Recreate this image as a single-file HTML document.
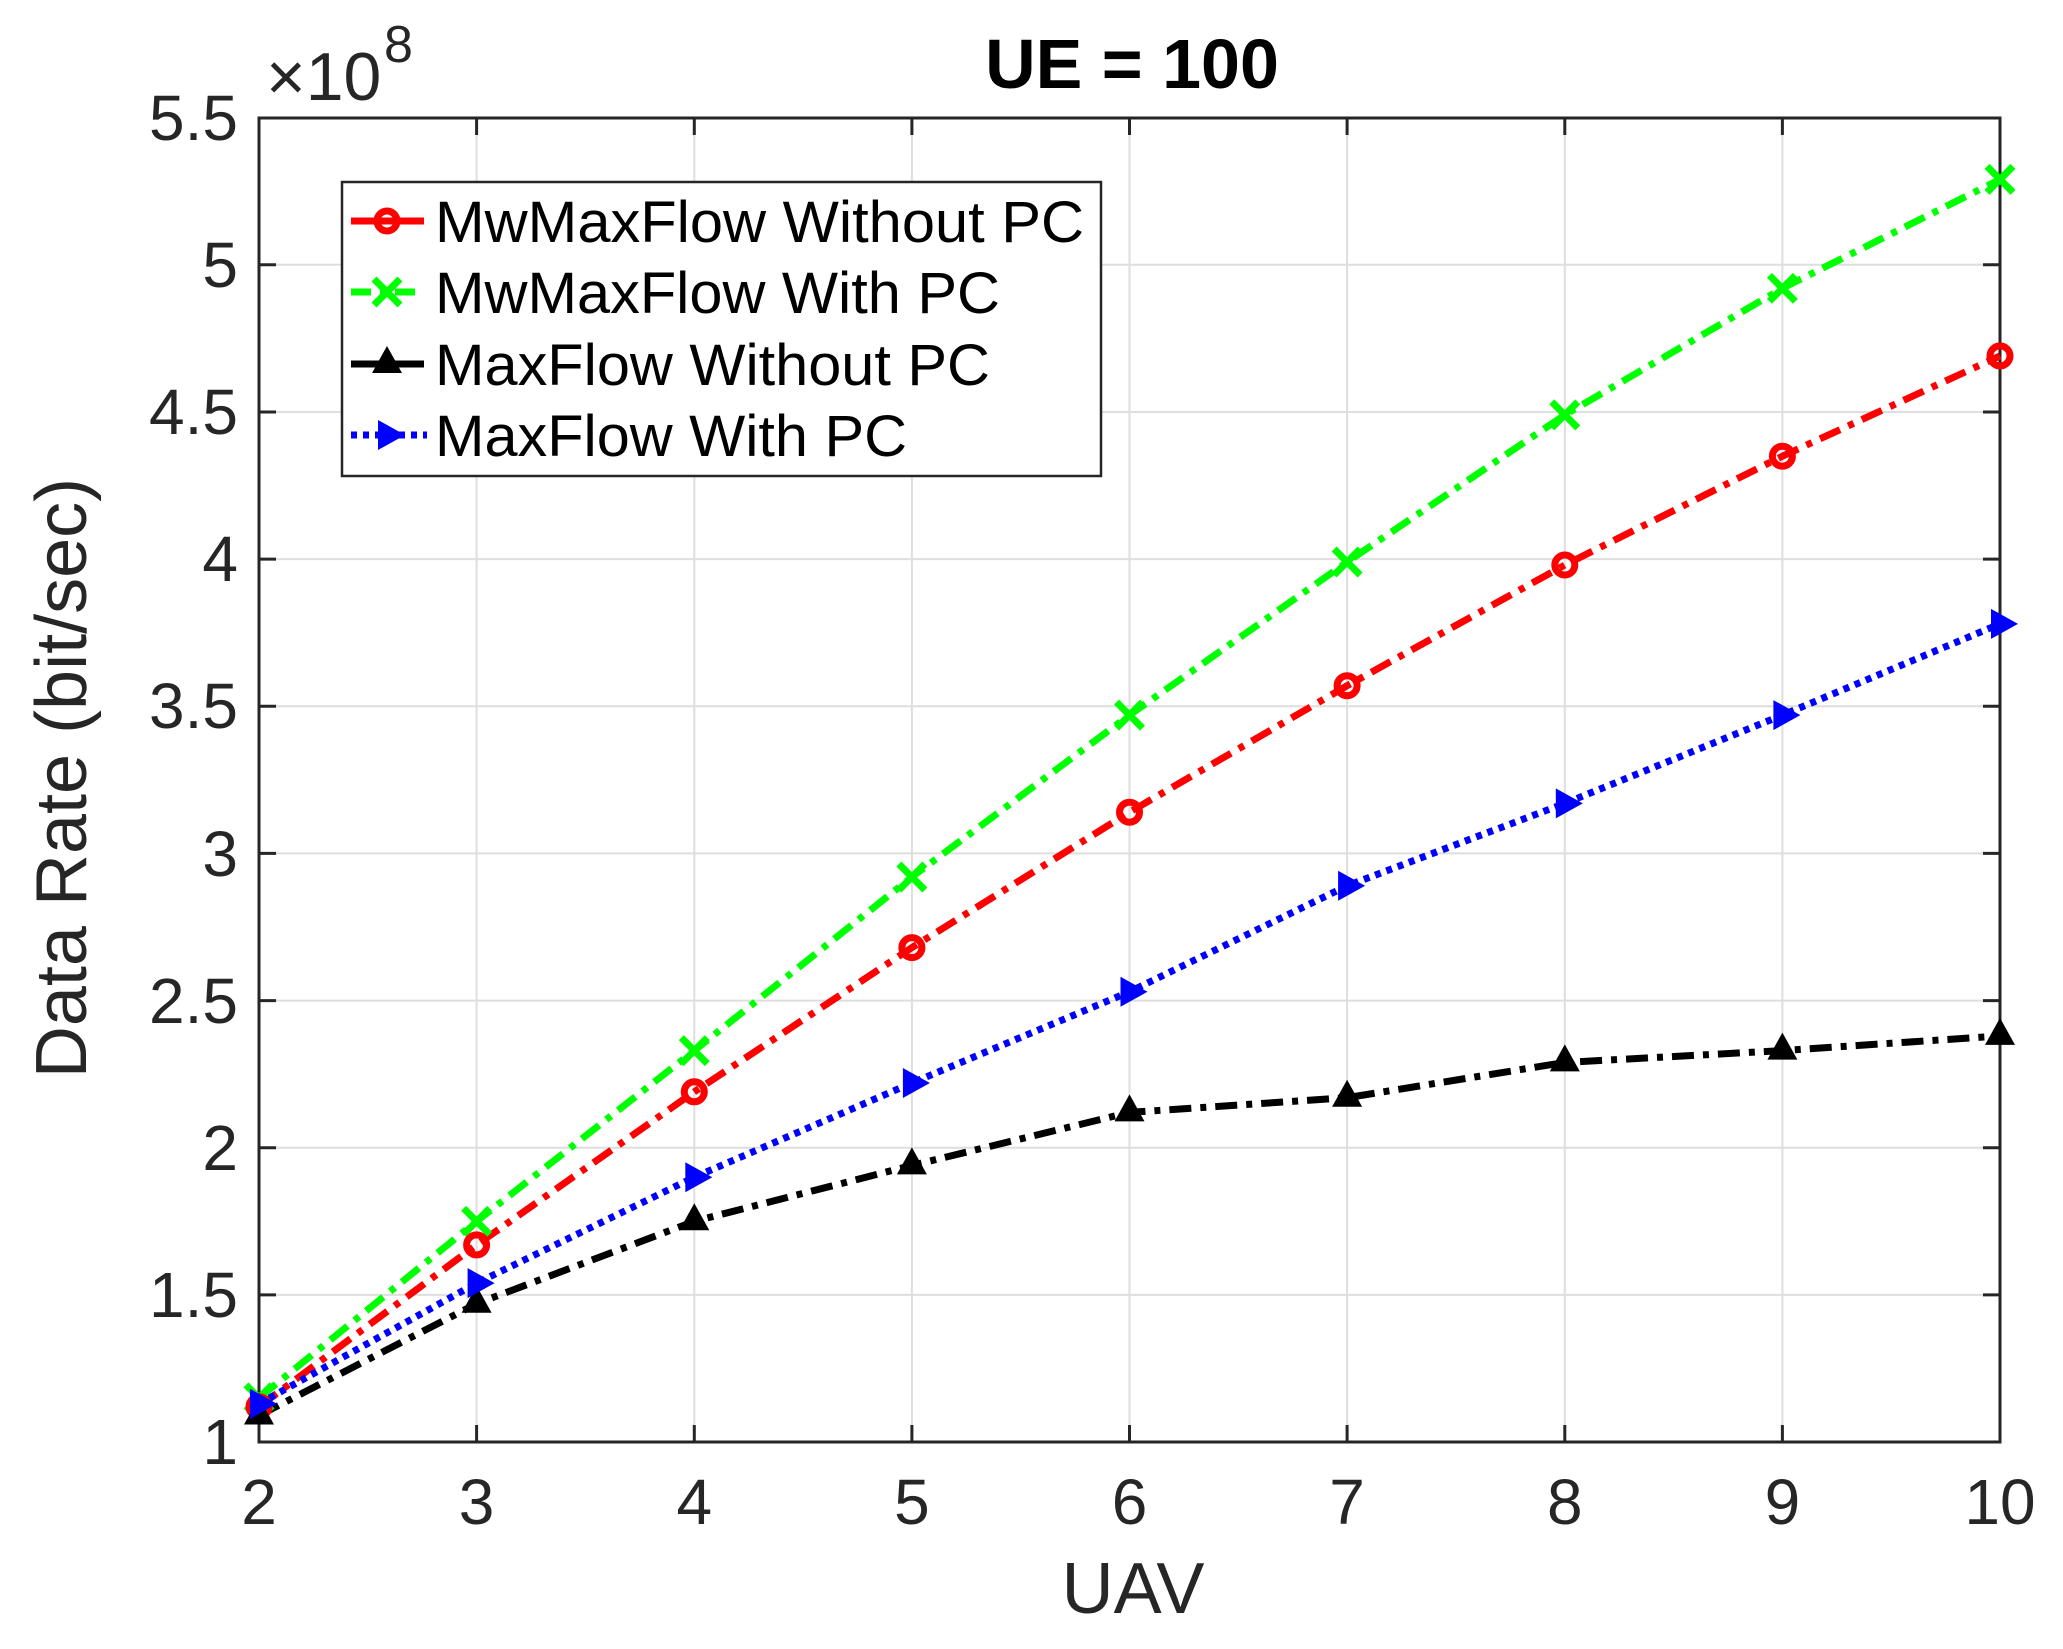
<!DOCTYPE html>
<html><head><meta charset="utf-8"><style>html,body{margin:0;padding:0;background:#fff}svg{display:block}</style></head>
<body>
<svg width="2063" height="1649" viewBox="0 0 2063 1649" xmlns="http://www.w3.org/2000/svg" font-family="Liberation Sans, Arial, sans-serif">
<rect width="2063" height="1649" fill="#fff"/>
<g stroke="#dedede" stroke-width="2">
<line x1="476.6" y1="118" x2="476.6" y2="1442"/><line x1="694.3" y1="118" x2="694.3" y2="1442"/><line x1="911.9" y1="118" x2="911.9" y2="1442"/><line x1="1129.5" y1="118" x2="1129.5" y2="1442"/><line x1="1347.1" y1="118" x2="1347.1" y2="1442"/><line x1="1564.8" y1="118" x2="1564.8" y2="1442"/><line x1="1782.4" y1="118" x2="1782.4" y2="1442"/>
<line x1="259" y1="1294.9" x2="2000" y2="1294.9"/><line x1="259" y1="1147.7" x2="2000" y2="1147.7"/><line x1="259" y1="1000.6" x2="2000" y2="1000.6"/><line x1="259" y1="853.4" x2="2000" y2="853.4"/><line x1="259" y1="706.3" x2="2000" y2="706.3"/><line x1="259" y1="559.1" x2="2000" y2="559.1"/><line x1="259" y1="412" x2="2000" y2="412"/><line x1="259" y1="264.8" x2="2000" y2="264.8"/>
</g>
<g stroke="#262626" stroke-width="3">
<path d="M476.6 1442v-17M694.3 1442v-17M911.9 1442v-17M1129.5 1442v-17M1347.1 1442v-17M1564.8 1442v-17M1782.4 1442v-17M476.6 118v17M694.3 118v17M911.9 118v17M1129.5 118v17M1347.1 118v17M1564.8 118v17M1782.4 118v17"/>
<path d="M259 1294.9h17M259 1147.7h17M259 1000.6h17M259 853.4h17M259 706.3h17M259 559.1h17M259 412h17M259 264.8h17M2000 1294.9h-17M2000 1147.7h-17M2000 1000.6h-17M2000 853.4h-17M2000 706.3h-17M2000 559.1h-17M2000 412h-17M2000 264.8h-17"/>
<rect x="259" y="118" width="1741" height="1324" fill="none"/>
</g>
<g fill="#262626" font-size="64" text-anchor="end">
<text x="238" y="1464">1</text><text x="238" y="1317">1.5</text><text x="238" y="1170">2</text><text x="238" y="1023">2.5</text><text x="238" y="876">3</text><text x="238" y="728">3.5</text><text x="238" y="581">4</text><text x="238" y="434">4.5</text><text x="238" y="287">5</text><text x="238" y="140">5.5</text>
</g>
<g fill="#262626" font-size="64" text-anchor="middle">
<text x="259" y="1524">2</text><text x="476.6" y="1524">3</text><text x="694.3" y="1524">4</text><text x="911.9" y="1524">5</text><text x="1129.5" y="1524">6</text><text x="1347.1" y="1524">7</text><text x="1564.8" y="1524">8</text><text x="1782.4" y="1524">9</text><text x="2000" y="1524">10</text>
</g>
<text x="266" y="100" fill="#262626" font-size="68">×10</text>
<text x="384" y="62" fill="#262626" font-size="52">8</text>
<text x="1132" y="88" text-anchor="middle" font-size="70" font-weight="bold" fill="#000">UE = 100</text>
<text x="1133" y="1613" text-anchor="middle" font-size="72" fill="#262626">UAV</text>
<text transform="translate(86,778) rotate(-90)" text-anchor="middle" font-size="72" fill="#262626">Data Rate (bit/sec)</text>

<g fill="none" stroke-width="7">
<polyline stroke="#00ff00" stroke-dasharray="22 9 6 9" points="259,1397.9 476.6,1221.3 694.3,1050.6 911.9,877 1129.5,715.1 1347.1,562 1564.8,414.9 1782.4,288.3 2000,179.4"/>
<polyline stroke="#ff0000" stroke-dasharray="22 9 6 9" points="259,1406.7 476.6,1244.9 694.3,1091.8 911.9,947.6 1129.5,812.2 1347.1,685.7 1564.8,565 1782.4,456.2 2000,355.9"/>
<polyline stroke="#0000ff" stroke-dasharray="6 6" points="259,1403.8 476.6,1283.1 694.3,1177.2 911.9,1083 1129.5,991.8 1347.1,885.8 1564.8,803.4 1782.4,715.1 2000,623.9"/>
<polyline stroke="#000" stroke-dasharray="22 9 6 9" points="259,1415.5 476.6,1303.7 694.3,1221.3 911.9,1165.4 1129.5,1112.4 1347.1,1097.7 1564.8,1062.4 1782.4,1050.6 2000,1035.9"/>
</g>
<g stroke="#00ff00" stroke-width="7" fill="none">
<path d="M-13 -13L13 13M-13 13L13 -13" transform="translate(259,1397.9)"/><path d="M-13 -13L13 13M-13 13L13 -13" transform="translate(476.6,1221.3)"/><path d="M-13 -13L13 13M-13 13L13 -13" transform="translate(694.3,1050.6)"/><path d="M-13 -13L13 13M-13 13L13 -13" transform="translate(911.9,877)"/><path d="M-13 -13L13 13M-13 13L13 -13" transform="translate(1129.5,715.1)"/><path d="M-13 -13L13 13M-13 13L13 -13" transform="translate(1347.1,562)"/><path d="M-13 -13L13 13M-13 13L13 -13" transform="translate(1564.8,414.9)"/><path d="M-13 -13L13 13M-13 13L13 -13" transform="translate(1782.4,288.3)"/><path d="M-13 -13L13 13M-13 13L13 -13" transform="translate(2000,179.4)"/>
</g>
<g stroke="#ff0000" stroke-width="7" fill="none">
<circle cx="259" cy="1406.7" r="10"/><circle cx="476.6" cy="1244.9" r="10"/><circle cx="694.3" cy="1091.8" r="10"/><circle cx="911.9" cy="947.6" r="10"/><circle cx="1129.5" cy="812.2" r="10"/><circle cx="1347.1" cy="685.7" r="10"/><circle cx="1564.8" cy="565" r="10"/><circle cx="1782.4" cy="456.2" r="10"/><circle cx="2000" cy="355.9" r="10"/>
</g>
<g fill="#000">
<path d="M0 -18L15 9H-15Z" transform="translate(259,1415.5)"/><path d="M0 -18L15 9H-15Z" transform="translate(476.6,1303.7)"/><path d="M0 -18L15 9H-15Z" transform="translate(694.3,1221.3)"/><path d="M0 -18L15 9H-15Z" transform="translate(911.9,1165.4)"/><path d="M0 -18L15 9H-15Z" transform="translate(1129.5,1112.4)"/><path d="M0 -18L15 9H-15Z" transform="translate(1347.1,1097.7)"/><path d="M0 -18L15 9H-15Z" transform="translate(1564.8,1062.4)"/><path d="M0 -18L15 9H-15Z" transform="translate(1782.4,1050.6)"/><path d="M0 -18L15 9H-15Z" transform="translate(2000,1035.9)"/>
</g>
<g fill="#0000ff">
<path d="M18 0L-9 -15V15Z" transform="translate(259,1403.8)"/><path d="M18 0L-9 -15V15Z" transform="translate(476.6,1283.1)"/><path d="M18 0L-9 -15V15Z" transform="translate(694.3,1177.2)"/><path d="M18 0L-9 -15V15Z" transform="translate(911.9,1083)"/><path d="M18 0L-9 -15V15Z" transform="translate(1129.5,991.8)"/><path d="M18 0L-9 -15V15Z" transform="translate(1347.1,885.8)"/><path d="M18 0L-9 -15V15Z" transform="translate(1564.8,803.4)"/><path d="M18 0L-9 -15V15Z" transform="translate(1782.4,715.1)"/><path d="M18 0L-9 -15V15Z" transform="translate(2000,623.9)"/>
</g>

<rect x="342" y="182" width="759" height="294" fill="#fff" stroke="#262626" stroke-width="2.5"/>
<g stroke-width="7">
<line x1="351" y1="221" x2="424" y2="221" stroke="#ff0000"/><circle cx="387" cy="221" r="10" fill="none" stroke="#ff0000"/>
<line x1="351" y1="292" x2="424" y2="292" stroke="#00ff00" stroke-dasharray="20 9 6 9"/><path d="M374 279L400 305M374 305L400 279" stroke="#00ff00"/>
<line x1="351" y1="364" x2="424" y2="364" stroke="#000"/><path d="M387 346L402 373H372Z" fill="#000" stroke="none"/>
<line x1="351" y1="435" x2="427" y2="435" stroke="#0000ff" stroke-dasharray="6 6"/><path d="M405 435L378 420V450Z" fill="#0000ff" stroke="none"/>
</g>
<g font-size="58" fill="#000">
<text x="435" y="242" textLength="649" lengthAdjust="spacingAndGlyphs">MwMaxFlow Without PC</text>
<text x="435" y="313" textLength="565" lengthAdjust="spacingAndGlyphs">MwMaxFlow With PC</text>
<text x="435" y="385" textLength="555" lengthAdjust="spacingAndGlyphs">MaxFlow Without PC</text>
<text x="435" y="456" textLength="472" lengthAdjust="spacingAndGlyphs">MaxFlow With PC</text>
</g>
</svg>
</body></html>
